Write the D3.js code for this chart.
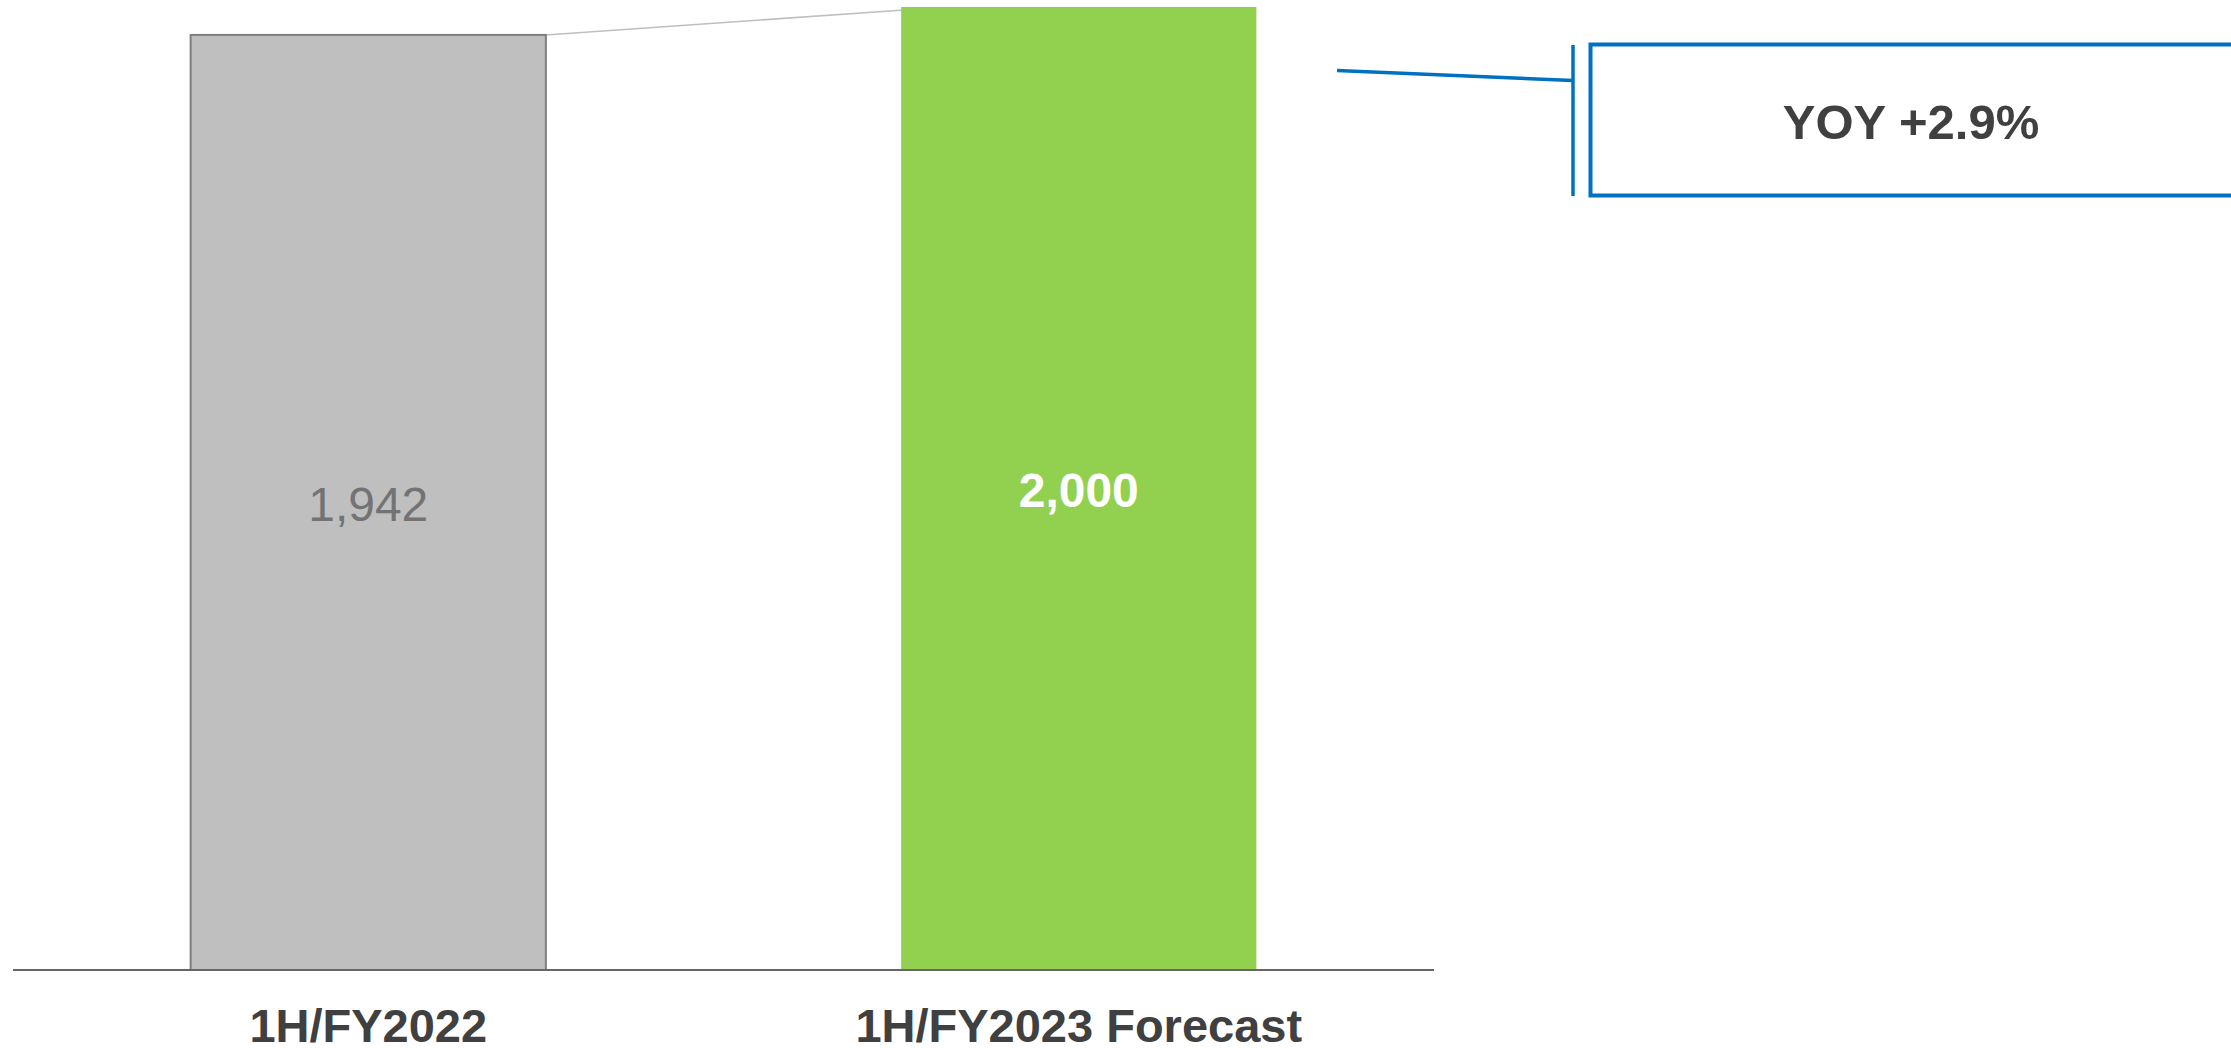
<!DOCTYPE html>
<html>
<head>
<meta charset="utf-8">
<script src="https://cdn.jsdelivr.net/npm/d3@7"></script>
<style>
  html, body { margin: 0; padding: 0; background: #ffffff; overflow: hidden; }
  svg { display: block; font-family: "Liberation Sans", Arial, Helvetica, sans-serif; }
</style>
</head>
<body>
<svg id="chart" width="2231" height="1048"></svg>
<script>
// Half-year results vs. forecast
const categories = ["1H/FY2022", "1H/FY2023 Forecast"];
const values = [1942, 2000];
const valueLabels = ["1,942", "2,000"];
const yoyLabel = ["YOY +2.9%"];

const W = 2231, H = 1048;
const baseline = 970;

const svg = d3.select("#chart");

const x = d3.scaleBand()
  .domain(categories)
  .range([13, 1434])
  .paddingInner(0.5)
  .paddingOuter(0.25);

const y = d3.scaleLinear()
  .domain([0, 2000])
  .range([baseline, 7]);

const fills = ["#bfbfbf", "#92d050"];
const strokes = ["#7f7f7f", "none"];
const labelColors = ["#737373", "#ffffff"];
const labelWeights = ["normal", "bold"];

// connector between the tops of the two bars
svg.append("line")
  .attr("x1", x(categories[0]) + x.bandwidth())
  .attr("y1", y(values[0]))
  .attr("x2", x(categories[1]) + 3)
  .attr("y2", y(values[1]) + 3)
  .attr("stroke", "#bfbfbf")
  .attr("stroke-width", 1.6);

// bars
svg.selectAll("rect.bar")
  .data(categories)
  .join("rect")
  .attr("class", "bar")
  .attr("x", d => x(d))
  .attr("y", (d, i) => y(values[i]))
  .attr("width", x.bandwidth())
  .attr("height", (d, i) => y(0) - y(values[i]))
  .attr("fill", (d, i) => fills[i])
  .attr("stroke", (d, i) => strokes[i])
  .attr("stroke-width", 2);

// value labels inside the bars
svg.selectAll("text.value")
  .data(categories)
  .join("text")
  .attr("class", "value")
  .attr("x", d => x(d) + x.bandwidth() / 2)
  .attr("y", (d, i) => (y(values[i]) + y(0)) / 2)
  .attr("dy", "0.38em")
  .attr("text-anchor", "middle")
  .attr("font-size", 48)
  .attr("font-weight", (d, i) => labelWeights[i])
  .attr("fill", (d, i) => labelColors[i])
  .text((d, i) => valueLabels[i]);

// baseline axis
const xAxis = d3.axisBottom(x).tickSize(0).tickPadding(0);
const axisG = svg.append("g")
  .attr("transform", `translate(0,${baseline})`)
  .call(xAxis);
axisG.select(".domain")
  .attr("stroke", "#666666")
  .attr("stroke-width", 2)
  .attr("d", `M13,0H1434`);
axisG.selectAll(".tick text")
  .attr("y", 72)
  .attr("dy", 0)
  .attr("font-size", 47)
  .attr("font-weight", "bold")
  .attr("fill", "#404040")
  .attr("font-family", "\"Liberation Sans\", Arial, Helvetica, sans-serif");

// YOY callout
const callout = svg.append("g");
callout.append("line")
  .attr("x1", 1337).attr("y1", 70.5)
  .attr("x2", 1573).attr("y2", 80.5)
  .attr("stroke", "#0070c0")
  .attr("stroke-width", 3.5);
callout.append("line")
  .attr("x1", 1573).attr("y1", 45)
  .attr("x2", 1573).attr("y2", 196)
  .attr("stroke", "#0070c0")
  .attr("stroke-width", 3.5);
callout.append("rect")
  .attr("x", 1590.5).attr("y", 44.5)
  .attr("width", 645).attr("height", 151)
  .attr("fill", "#ffffff")
  .attr("stroke", "#0070c0")
  .attr("stroke-width", 4);
callout.selectAll("text")
  .data(yoyLabel)
  .join("text")
  .attr("x", 1911)
  .attr("y", 139)
  .attr("text-anchor", "middle")
  .attr("font-size", 49)
  .attr("font-weight", "bold")
  .attr("fill", "#404040")
  .text(d => d);
</script>
</body>
</html>
